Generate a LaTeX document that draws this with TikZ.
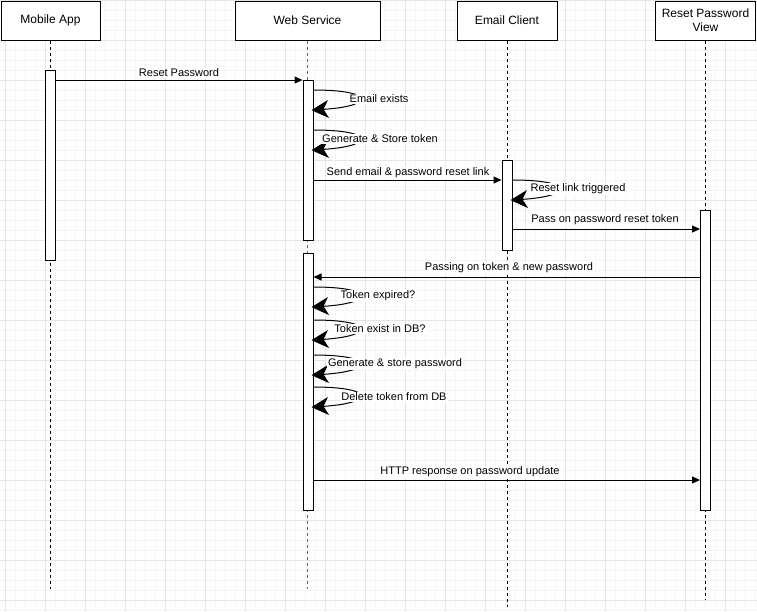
\documentclass[tikz,border=0pt]{standalone}
\usepackage{fontspec}
\setmainfont{Liberation Sans}
\usetikzlibrary{arrows.meta}
\begin{document}
\begin{tikzpicture}[x=1pt,y=-1pt,
  head/.style={draw,line width=1pt,fill=white,inner sep=0pt,font=\fontsize{12}{14}\selectfont,align=center},
  bar/.style={draw,line width=1pt,fill=white,inner sep=0pt,minimum width=10pt},
  life/.style={dash pattern=on 3pt off 3pt,line width=1pt},
  msg/.style={line width=1pt,-{Triangle[length=8pt,width=7pt]}},
  selfmsg/.style={line width=1pt,-{Stealth[length=17pt,width=18pt,inset=5pt]},shorten >=-2pt},
  lbl/.style={font=\fontsize{11}{13}\selectfont,fill=white,inner sep=1pt,yshift=-1pt},
  minorg/.style={draw=black!4,line width=1pt},
  majorg/.style={draw=black!10,line width=1pt}]
\useasboundingbox (0,0) rectangle (757,611);
\fill[white] (0,0) rectangle (757,611);
% grid
\foreach \x in {5,15,...,755} \draw[minorg] (\x,0) -- (\x,611);
\foreach \y in {10,20,...,610} \draw[minorg] (0,\y) -- (757,\y);
\foreach \x in {5,45,...,755} \draw[majorg] (\x,0) -- (\x,611);
\foreach \y in {0,40,...,600} \draw[majorg] (0,\y) -- (757,\y);
% headers
\node[head,minimum width=99pt,minimum height=39pt] (hm) at (50.5,20.5) {Mobile App};
\node[head,minimum width=145pt,minimum height=39pt] (hw) at (307.5,20.5) {Web Service};
\node[head,minimum width=100pt,minimum height=39pt] (he) at (507,20.5) {Email Client};
\node[head,minimum width=100pt,minimum height=39pt] (hr) at (705.5,20.5) {Reset Password\\View};
% lifeline ends
\coordinate (em) at (50,589);
\coordinate (ew) at (307.5,589);
\coordinate (ee) at (507,607);
\coordinate (er) at (705.5,600);
\draw[life] (hm.south -| em) -- (em);
\draw[life,draw=black!60] (hw.south -| ew) -- (ew);
\draw[life] (he.south -| ee) -- (ee);
\draw[life] (hr.south -| er) -- (er);
% activation bars
\node[bar,minimum height=190pt] (mb) at (50,165) {};
\node[bar,minimum height=160pt] (ws1) at (308,160) {};
\node[bar,minimum height=257pt] (ws2) at (308,381.5) {};
\node[bar,minimum height=90pt] (ec) at (507,205) {};
\node[bar,minimum height=300pt] (rv) at (705.5,360) {};
% message levels
\coordinate (yRP) at (0,80);
\coordinate (ySE) at (0,180);
\coordinate (yPT) at (0,229);
\coordinate (yPN) at (0,277);
\coordinate (yHT) at (0,480);
% straight messages
\draw[msg] (mb.east |- yRP) -- (ws1.west |- yRP);
\draw[msg] (ws1.east |- ySE) -- (ec.west |- ySE);
\draw[msg] (ec.east |- yPT) -- (rv.west |- yPT);
\draw[msg] (rv.west |- yPN) -- (ws2.east |- yPN);
\draw[msg] (ws2.east |- yHT) -- (rv.west |- yHT);
% self messages
\coordinate (a1) at (0,90);  \coordinate (b1) at (0,110);
\coordinate (a2) at (0,130); \coordinate (b2) at (0,150);
\coordinate (a3) at (0,180); \coordinate (b3) at (0,200);
\coordinate (a4) at (0,287); \coordinate (b4) at (0,307);
\coordinate (a5) at (0,320); \coordinate (b5) at (0,340);
\coordinate (a6) at (0,355); \coordinate (b6) at (0,375);
\coordinate (a7) at (0,387); \coordinate (b7) at (0,407);
\draw[selfmsg] (ws1.east |- a1) .. controls +(62,0) and +(62,-4) .. (ws1.east |- b1);
\draw[selfmsg] (ws1.east |- a2) .. controls +(62,0) and +(62,-4) .. (ws1.east |- b2);
\draw[selfmsg] (ec.east |- a3) .. controls +(62,0) and +(62,-4) .. (ec.east |- b3);
\draw[selfmsg] (ws2.east |- a4) .. controls +(62,0) and +(62,-4) .. (ws2.east |- b4);
\draw[selfmsg] (ws2.east |- a5) .. controls +(62,0) and +(62,-4) .. (ws2.east |- b5);
\draw[selfmsg] (ws2.east |- a6) .. controls +(62,0) and +(62,-4) .. (ws2.east |- b6);
\draw[selfmsg] (ws2.east |- a7) .. controls +(62,0) and +(62,-4) .. (ws2.east |- b7);
% labels
\node[lbl] (lRP) at (179,72) {Reset Password};
\node[lbl] (lES) at (379,98) {Email exists};
\node[lbl] (lGS) at (380,138) {Generate \& Store token};
\node[lbl] (lSE) at (408,172) {Send email \& password reset link};
\node[lbl] (lRL) at (578,188) {Reset link triggered};
\node[lbl] (lPT) at (605,219) {Pass on password reset token};
\node[lbl] (lPN) at (509,267) {Passing on token \& new password};
\node[lbl] (lTE) at (378,295) {Token expired?};
\node[lbl] (lTD) at (380,328) {Token exist in DB?};
\node[lbl] (lGP) at (395,363) {Generate \& store password};
\node[lbl] (lDT) at (394,396) {Delete token from DB};
\node[lbl] (lHT) at (470,471) {HTTP response on password update};
\end{tikzpicture}
\end{document}
